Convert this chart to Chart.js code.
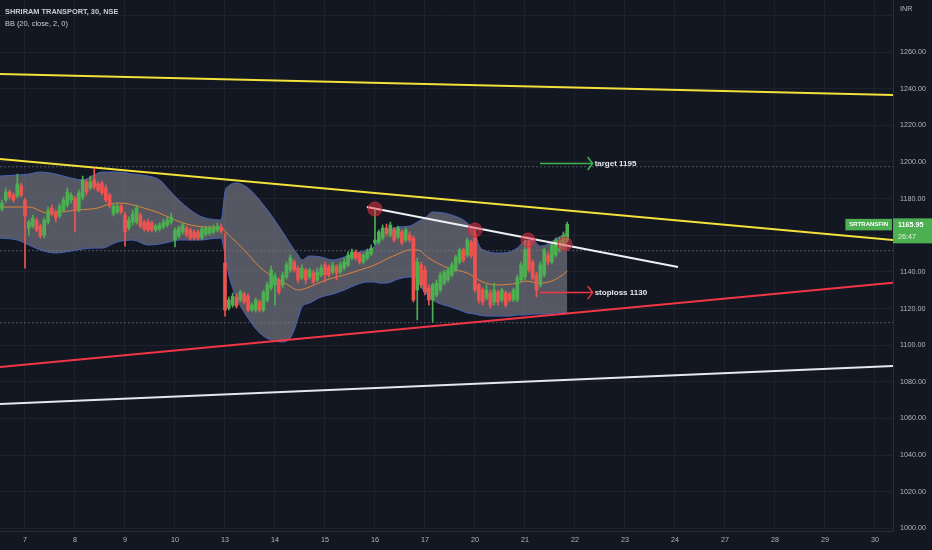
<!DOCTYPE html>
<html><head><meta charset="utf-8">
<style>html,body{margin:0;padding:0;background:#131722;overflow:hidden}#wrap{width:932px;height:550px}</style>
<script src="https://cdn.jsdelivr.net/npm/chart.js@4.4.1/dist/chart.umd.min.js"></script>
</head><body><div id="wrap"><canvas id="c" width="932" height="550"></canvas></div>
<script>
// ---------- DATA ----------
const titleText = 'SHRIRAM TRANSPORT, 30, NSE';
const indicatorText = 'BB (20, close, 2, 0)';
const symbolText = 'SRTRANSFIN';
const countdownText = '26:47';
const currencyText = 'INR';
const dayLabels = ['7','8','9','10','13','14','15','16','17','20','21','22','23','24','27','28','29','30'];
const barsPerDay = 13;
const firstBar = -6;
const viewBars = [-6.5, 225.7];
const viewPrice = [998.6, 1288.4];
const priceStep = 20;

const opens = [1174.3,1179.2,1183.6,1182.0,1181.4,1186.9,
 1179.2,1164.0,1165.0,1168.3,1165.0,1160.1,1167.2,1174.9,1172.7,1170.5,1173.8,1176.5,1179.2,
 1180.3,1173.8,1180.9,1189.1,1185.8,1190.2,1188.0,1188.5,1185.8,1182.0,1171.6,1172.7,1176.0,
 1171.0,1164.0,1167.2,1167.2,1171.0,1167.2,1167.2,1166.7,1162.9,1163.4,1164.5,1165.6,1167.2,
 1157.4,1159.6,1161.8,1164.0,1162.9,1161.8,1161.8,1158.5,1160.7,1161.2,1161.8,1162.9,1164.5,
 1144.9,1120.3,1121.9,1126.3,1124.7,1127.9,1126.8,1119.2,1119.2,1123.6,1119.2,1124.7,1131.2,
 1132.9,1135.6,1132.9,1137.2,1141.0,1145.4,1142.1,1136.7,1141.0,1137.2,1139.4,1135.6,1138.3,
 1143.8,1142.7,1139.9,1142.7,1139.9,1142.1,1143.8,1147.6,1150.9,1149.8,1145.4,1147.6,1149.8,
 1155.8,1156.3,1158.5,1164.0,1160.1,1162.9,1159.0,1161.8,1157.4,1160.1,1158.5,1130.1,1143.8,
 1141.0,1131.2,1124.7,1127.4,1130.1,1133.9,1135.6,1138.3,1141.0,1145.4,1152.0,1149.2,1156.3,
 1159.6,1132.9,1130.1,1125.8,1128.5,1123.6,1129.0,1124.7,1128.5,1127.9,1124.7,1124.7,1135.6,
 1137.2,1154.7,1145.4,1138.3,1132.9,1138.3,1149.2,1145.4,1149.2,1152.0,1154.7,1157.4];
const highs = [1179.2,1185.8,1184.7,1183.1,1193.4,1188.5,
 1180.3,1168.3,1171.0,1169.4,1166.1,1169.4,1175.4,1176.5,1173.8,1177.1,1180.9,1185.8,1183.1,
 1181.4,1184.7,1192.3,1190.2,1192.3,1196.7,1189.1,1189.6,1187.4,1183.1,1177.1,1177.6,1177.1,
 1172.7,1170.0,1173.8,1176.5,1172.1,1168.3,1168.9,1167.8,1166.1,1166.7,1168.9,1170.0,1172.1,
 1164.0,1165.0,1166.7,1165.0,1164.0,1162.9,1162.9,1164.5,1165.0,1165.0,1165.6,1166.7,1166.1,
 1161.2,1126.3,1128.5,1127.9,1130.1,1129.0,1127.9,1123.0,1125.8,1124.7,1130.1,1134.5,1143.2,
 1139.4,1136.7,1139.9,1145.4,1149.2,1146.5,1143.2,1143.8,1142.1,1142.1,1141.0,1142.1,1143.8,
 1145.4,1143.8,1145.4,1143.8,1145.4,1147.6,1150.9,1152.5,1152.0,1150.9,1150.3,1152.5,1154.7,
 1173.8,1162.9,1165.6,1166.1,1167.2,1164.0,1165.0,1162.9,1164.0,1161.8,1159.6,1147.6,1145.4,
 1143.2,1132.9,1133.9,1135.6,1139.9,1141.0,1142.7,1145.4,1149.2,1153.0,1153.0,1158.5,1157.4,
 1162.9,1133.9,1131.2,1132.9,1130.1,1133.9,1130.1,1131.2,1129.6,1129.0,1131.2,1138.3,1145.4,
 1157.4,1157.4,1146.5,1139.9,1145.4,1153.0,1150.9,1155.8,1158.5,1159.0,1161.8,1167.2];
const lows = [1173.2,1178.1,1179.8,1178.1,1180.3,1180.9,
 1142.1,1160.1,1164.0,1161.8,1158.5,1158.5,1166.1,1170.5,1167.2,1169.4,1172.7,1175.4,1177.6,
 1161.8,1172.7,1179.2,1182.0,1184.7,1185.2,1183.6,1182.0,1178.1,1174.9,1170.5,1171.6,1171.6,
 1154.1,1162.9,1165.6,1166.1,1164.0,1162.3,1161.8,1161.8,1161.8,1162.3,1163.4,1164.5,1166.1,
 1153.6,1158.5,1160.7,1159.0,1157.4,1157.4,1157.4,1157.4,1159.6,1160.1,1160.7,1161.8,1161.2,
 1115.9,1119.2,1120.8,1120.3,1123.6,1122.5,1118.1,1118.1,1118.1,1118.1,1118.1,1123.6,1130.1,
 1121.9,1127.9,1131.2,1136.1,1139.9,1139.9,1133.9,1135.6,1133.4,1136.1,1133.4,1134.5,1137.2,
 1134.5,1137.2,1138.9,1135.6,1138.9,1141.0,1142.7,1146.5,1146.5,1144.3,1144.3,1146.5,1148.7,
 1154.7,1155.2,1157.4,1159.6,1159.0,1156.3,1158.0,1154.7,1156.3,1156.3,1123.6,1113.8,1131.2,
 1127.4,1121.9,1112.7,1126.3,1129.0,1132.9,1134.5,1137.2,1139.9,1144.3,1145.4,1148.1,1147.6,
 1129.0,1123.0,1121.9,1124.7,1120.3,1121.9,1121.9,1123.6,1120.8,1123.6,1123.6,1123.6,1134.5,
 1135.6,1139.9,1135.6,1126.3,1131.8,1137.2,1143.8,1144.3,1148.1,1150.9,1153.6,1156.3];
const closes = [1177.6,1183.6,1180.9,1179.2,1188.0,1182.0,
 1170.5,1167.2,1169.4,1162.9,1159.6,1168.3,1173.8,1171.6,1169.4,1176.0,1179.2,1183.6,1182.0,
 1173.8,1183.1,1190.2,1183.6,1189.1,1186.3,1184.7,1183.1,1179.2,1176.0,1176.0,1176.0,1172.7,
 1161.8,1168.3,1171.6,1174.9,1165.0,1163.4,1162.9,1162.9,1165.0,1165.6,1167.2,1168.3,1170.0,
 1162.9,1164.0,1165.6,1160.1,1158.5,1158.5,1158.5,1163.4,1164.0,1164.0,1164.0,1165.0,1162.3,
 1119.2,1124.7,1126.8,1121.4,1129.0,1123.6,1119.2,1121.9,1124.7,1119.2,1129.0,1132.9,1141.0,
 1137.8,1129.0,1138.3,1143.8,1147.6,1141.0,1135.6,1142.1,1135.6,1141.0,1134.5,1139.9,1142.1,
 1138.3,1138.3,1143.8,1139.4,1143.8,1145.4,1149.2,1150.9,1147.6,1145.4,1149.2,1150.9,1153.0,
 1157.4,1161.8,1164.0,1161.2,1165.6,1157.4,1164.0,1155.8,1162.9,1157.4,1124.7,1145.4,1132.9,
 1129.0,1124.7,1132.9,1133.9,1138.3,1139.9,1141.0,1143.8,1148.1,1152.0,1146.5,1157.4,1148.7,
 1130.1,1124.7,1123.6,1130.1,1121.9,1130.1,1123.6,1130.1,1121.9,1124.7,1130.1,1136.7,1143.8,
 1152.0,1141.0,1136.7,1130.1,1143.8,1152.0,1145.4,1154.7,1157.4,1157.4,1160.1,1165.95];

// Bollinger bands (bar position, price)
const bandBars = [-6.5,-2,1,4,8,12,15,18,20,24,28,32,35,37.5,40,43,45.5,48,51,52,53,55,58,61,64,67,69,70,71,72,74,77,80,83,86,89,91,92,94,97,100,102,103,104,106,109,110,113,115,117,118,120,123,126,128,130,132,134,136,138,140,141];
const bandUpper = [1192.3,1192.9,1193.4,1194.5,1193.4,1191.2,1190.2,1192.9,1194.5,1194.5,1193.4,1192.3,1190.2,1184.7,1179.2,1173.8,1170.5,1168.9,1168.3,1183.6,1186.9,1188.5,1185.8,1179.2,1171.0,1161.8,1155.2,1152.0,1149.2,1146.5,1148.7,1148.1,1146.5,1148.1,1150.3,1152.0,1154.1,1158.5,1162.3,1164.5,1165.0,1167.2,1168.3,1169.4,1172.7,1172.1,1171.6,1169.4,1166.7,1161.8,1154.7,1151.4,1150.3,1150.9,1153.0,1156.9,1157.4,1154.1,1155.2,1158.0,1160.1,1161.8];
const bandLower = [1158.5,1157.4,1154.7,1152.0,1150.3,1151.4,1152.5,1153.0,1153.0,1156.3,1157.4,1154.7,1155.2,1156.3,1157.4,1157.4,1157.4,1158.0,1158.5,1149.2,1138.3,1125.8,1114.8,1106.7,1102.8,1101.8,1104.0,1108.3,1114.8,1120.8,1123.0,1126.3,1127.9,1130.1,1132.9,1134.5,1134.5,1133.9,1133.9,1136.1,1137.2,1136.7,1131.8,1129.0,1124.7,1121.9,1121.4,1119.2,1117.6,1117.0,1116.5,1115.9,1115.9,1115.9,1116.5,1116.5,1117.0,1117.0,1117.0,1117.6,1117.6,1117.6];
const basisBars = [-6.5,1,6,9,14,19,22,25,30,35,39,43,47,51,53,57,61,65,68,71,74,77,80,83,87,91,94,97,100,102,105,110,115,119,123,128,130,134,137,139,141];
const basisValues = [1175.4,1175.4,1172.1,1172.7,1173.8,1174.9,1177.1,1177.6,1175.4,1172.1,1168.3,1165.6,1164.5,1164.0,1160.1,1152.0,1142.7,1136.7,1133.4,1130.1,1131.8,1134.5,1136.7,1138.3,1141.0,1143.8,1147.0,1149.8,1152.0,1152.0,1147.6,1142.1,1139.4,1134.5,1132.9,1133.9,1135.0,1133.9,1135.0,1137.2,1140.5];

// Drawings (bar position, price)
const yellowUpper = [[-6.5,1248.0],[225.7,1236.5]];
const yellowLower = [[-6.5,1201.6],[225.7,1157.4]];
const redSupport = [[-6.5,1088.1],[225.7,1134.1]];
const whiteLower = [[-6.5,1067.9],[225.7,1088.7]];
const whiteTrend = [[88.9,1175.4],[169.8,1142.7]];
const dottedLevels = [1197.4,1151.6,1112.3];
const touchBars = [91,117,130.8,140.4];
const touchPrices = [1174.3,1162.9,1157.4,1155.2];
const targetArrow = [[133.9,1199.2],[147.6,1199.2]];
const stopArrow = [[133.9,1128.7],[147.6,1128.7]];
const targetText = 'target 1195';
const stopText = 'stoploss 1130';

// ---------- CHART ----------
const UP = '#4caf50', DOWN = '#ef5350';
const barX = closes.map((_, i) => firstBar + i);
const candleColors = closes.map((c, i) => c >= opens[i] ? UP : DOWN);
const pts = arr => arr.map(p => ({x: p[0], y: p[1]}));
const FONT = '"Liberation Sans", Arial, sans-serif';
const lineDs = (data, color, width, order, extra) => Object.assign({
  type: 'line', data: pts(data), borderColor: color, borderWidth: width,
  pointRadius: 0, pointHoverRadius: 0, fill: false, order: order, tension: 0
}, extra || {});

const datasets = [
  {type:'line', data: bandBars.map((b,i)=>({x:b,y:bandUpper[i]})), borderColor:'#4763b8', borderWidth:1,
   pointRadius:0, fill:'+1', backgroundColor:'rgba(120,123,134,0.66)', cubicInterpolationMode:'monotone', order:30},
  {type:'line', data: bandBars.map((b,i)=>({x:b,y:bandLower[i]})), borderColor:'#4763b8', borderWidth:1,
   pointRadius:0, fill:false, cubicInterpolationMode:'monotone', order:29},
  {type:'line', data: basisBars.map((b,i)=>({x:b,y:basisValues[i]})), borderColor:'#e0843a', borderWidth:1,
   pointRadius:0, fill:false, cubicInterpolationMode:'monotone', order:28}
];
dottedLevels.forEach(v => datasets.push(lineDs([[viewBars[0], v],[viewBars[1], v]], 'rgba(130,134,146,0.55)', 1, 40, {borderDash:[2,2]})));
datasets.push(lineDs(yellowUpper, '#f3e23c', 2, 20));
datasets.push(lineDs(yellowLower, '#f3e23c', 2, 20));
datasets.push(lineDs(redSupport, '#f23645', 2, 20));
datasets.push(lineDs(whiteLower, '#e6e8ee', 2, 20));
datasets.push({type:'bar', data: barX.map((x,i)=>({x:x, y:[lows[i], highs[i]]})), backgroundColor: candleColors,
  barThickness:1, grouped:false, order:6});
datasets.push({type:'bar', data: barX.map((x,i)=>({x:x, y:[opens[i], closes[i]]})), backgroundColor: candleColors,
  barThickness:3, minBarLength:1, grouped:false, order:5});
datasets.push(lineDs(whiteTrend, '#eef0f4', 2, 3));
datasets.push({type:'line', data: touchBars.map((b,i)=>({x:b,y:touchPrices[i]})), showLine:false,
  pointRadius:7, pointBackgroundColor:'rgba(242,54,69,0.5)', pointBorderColor:'rgba(190,40,55,0.9)', pointBorderWidth:1, order:1});
const targetIdx = datasets.length;
datasets.push(lineDs(targetArrow, '#3fb54f', 1.5, 1));
const stopIdx = datasets.length;
datasets.push(lineDs(stopArrow, '#f23645', 1.5, 1));

const overlay = {
  id: 'overlay',
  beforeDraw(chart) {
    const ctx = chart.ctx; ctx.save();
    ctx.fillStyle = '#131722'; ctx.fillRect(0, 0, chart.width, chart.height);
    ctx.restore();
  },
  afterDraw(chart) {
    const ctx = chart.ctx; const ys = chart.scales.y;
    ctx.save();
    ctx.textBaseline = 'middle'; ctx.textAlign = 'left';
    ctx.fillStyle = '#c9ccd4'; ctx.font = 'bold 7.4px ' + FONT;
    ctx.fillText(titleText, 5, 11.5);
    ctx.font = '7.4px ' + FONT;
    ctx.fillText(indicatorText, 5, 23.5);
    ctx.fillStyle = '#b2b5be'; ctx.font = '7.2px ' + FONT;
    ctx.fillText(currencyText, ys.left + 7, 9);
    // arrows
    [[targetIdx, '#3fb54f', targetText], [stopIdx, '#f23645', stopText]].forEach(a => {
      const meta = chart.getDatasetMeta(a[0]);
      const p = meta.data[meta.data.length - 1];
      ctx.strokeStyle = a[1]; ctx.lineWidth = 1.5;
      ctx.beginPath(); ctx.moveTo(p.x - 5, p.y - 6.5); ctx.lineTo(p.x, p.y); ctx.lineTo(p.x - 5, p.y + 6.5); ctx.stroke();
      ctx.fillStyle = '#e4e6ec'; ctx.font = 'bold 8px ' + FONT;
      ctx.fillText(a[2], p.x + 2, p.y + 0.5);
    });
    // last price label
    const last = closes[closes.length - 1];
    const py = ys.getPixelForValue(last);
    ctx.fillStyle = '#4caf50';
    ctx.fillRect(ys.left, py - 6, chart.width - ys.left, 25);
    ctx.font = 'bold 6px ' + FONT;
    const w = ctx.measureText(symbolText).width + 8;
    ctx.fillRect(ys.left - 1 - w, py - 5.5, w, 11.5);
    ctx.fillStyle = '#ffffff';
    ctx.fillText(symbolText, ys.left - 1 - w + 4, py + 0.3);
    ctx.font = 'bold 7.2px ' + FONT;
    ctx.fillText(last.toFixed(2), ys.left + 5, py + 0.5);
    ctx.fillStyle = 'rgba(255,255,255,0.82)';
    ctx.font = '7.2px ' + FONT;
    ctx.fillText(countdownText, ys.left + 5, py + 12.5);
    ctx.restore();
  }
};

new Chart(document.getElementById('c'), {
  type: 'bar',
  data: { datasets },
  plugins: [overlay],
  options: {
    responsive: false, animation: false,
    layout: { padding: 0, autoPadding: false },
    plugins: { legend: { display: false }, tooltip: { enabled: false } },
    scales: {
      x: {
        type: 'linear', min: viewBars[0], max: viewBars[1], offset: false,
        grid: { color: '#1e222d', drawTicks: false, offset: false },
        border: { color: '#2a2e39' },
        afterBuildTicks: s => { s.ticks = dayLabels.map((_, i) => ({ value: i * barsPerDay })); },
        afterFit: s => { s.height = 19; s.paddingLeft = 0; s.paddingRight = 0; },
        ticks: { color: '#b2b5be', font: { family: FONT, size: 7.2 }, padding: 5, maxRotation: 0, autoSkip: false,
          callback: v => dayLabels[Math.round(v / barsPerDay)] }
      },
      y: {
        type: 'linear', position: 'right', min: viewPrice[0], max: viewPrice[1],
        grid: { color: '#1e222d', drawTicks: false },
        border: { color: '#2a2e39' },
        afterFit: s => { s.width = 39; s.paddingTop = 0; s.paddingBottom = 0; },
        ticks: { stepSize: priceStep, includeBounds: false, color: '#b2b5be', font: { family: FONT, size: 7.2 }, padding: 7,
          callback: v => v > 1270 ? '' : v.toFixed(2) }
      }
    }
  }
});
</script>
</body></html>
